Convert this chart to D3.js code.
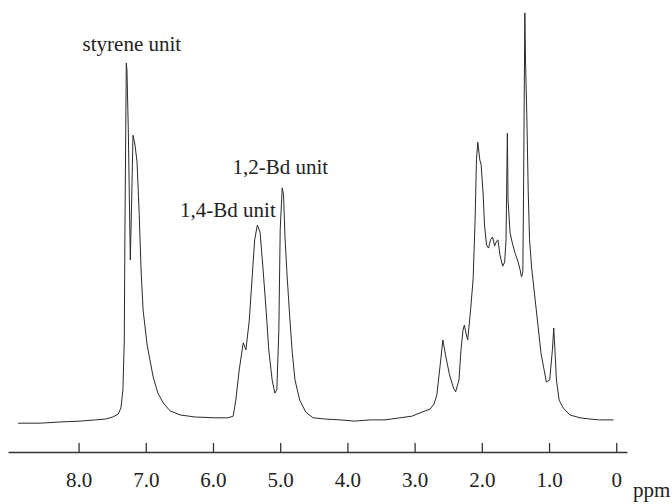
<!DOCTYPE html>
<html>
<head>
<meta charset="utf-8">
<script src="https://cdn.jsdelivr.net/npm/d3@7"></script>
<style>
  html, body { margin: 0; padding: 0; background: #fff; }
  svg { display: block; }
  .lbl { font-family: "Liberation Serif", "Times New Roman", serif; font-size: 21px; fill: #222; }
</style>
</head>
<body>
<svg width="672" height="504"></svg>
<script>
const width = 672, height = 504;
const svg = d3.select("svg");

// chemical shift (ppm) and relative intensity
const ppm = [
  8.90, 8.57, 8.27, 7.98, 7.75, 7.60, 7.49, 7.41, 7.37, 7.34,
  7.32, 7.31, 7.29, 7.28, 7.26, 7.23, 7.21, 7.19, 7.16, 7.13,
  7.10, 7.07, 7.04, 6.98, 6.89, 6.82, 6.74, 6.64, 6.49, 6.27,
  5.97, 5.78, 5.70, 5.66, 5.61, 5.55, 5.51, 5.46, 5.42, 5.38,
  5.34, 5.30, 5.26, 5.21, 5.17, 5.12, 5.08, 5.05, 5.02, 5.00,
  4.97, 4.95, 4.93, 4.90, 4.86, 4.82, 4.78, 4.71, 4.62, 4.51,
  4.33, 4.11, 3.89, 3.66, 3.44, 3.22, 3.04, 2.89, 2.77, 2.71,
  2.67, 2.62, 2.58, 2.54, 2.48, 2.42, 2.39, 2.34, 2.31, 2.28,
  2.26, 2.23, 2.21, 2.17, 2.13, 2.10, 2.08, 2.06, 2.03, 2.01,
  1.98, 1.96, 1.93, 1.90, 1.87, 1.84, 1.81, 1.78, 1.76, 1.73,
  1.69, 1.66, 1.64, 1.62, 1.61, 1.58, 1.55, 1.51, 1.46, 1.43,
  1.41, 1.39, 1.38, 1.36, 1.35, 1.33, 1.31, 1.29, 1.26, 1.19,
  1.12, 1.04, 0.99, 0.95, 0.93, 0.91, 0.89, 0.85, 0.79, 0.69,
  0.54, 0.39, 0.25, 0.04
];
const intensity = [
  0.2, 0.2, 0.5, 0.7, 1.0, 1.2, 1.7, 2.4, 3.9, 8.3,
  20.4, 47.1, 87.6, 85.9, 71.4, 39.8, 54.4, 70.1, 67.7, 63.6,
  51.9, 37.4, 27.7, 19.2, 11.4, 7.5, 5.1, 3.2, 2.2, 1.7,
  1.5, 1.5, 1.9, 5.8, 13.1, 19.7, 18.0, 25.2, 35.0, 44.7,
  48.3, 46.6, 38.6, 27.7, 18.0, 10.7, 7.5, 8.3, 22.8, 47.1,
  57.3, 55.6, 45.9, 36.7, 26.5, 17.2, 10.7, 5.8, 2.9, 1.5,
  1.2, 1.0, 0.7, 1.0, 1.0, 1.5, 1.9, 2.9, 3.6, 4.9,
  7.0, 14.3, 20.4, 16.7, 11.9, 8.7, 7.8, 10.7, 18.0, 22.8,
  24.0, 21.6, 20.4, 27.2, 35.0, 49.5, 64.1, 68.4, 64.1, 62.9,
  55.6, 48.3, 43.4, 42.7, 44.7, 45.4, 43.2, 44.4, 44.7, 41.0,
  38.3, 39.3, 44.7, 70.6, 54.4, 46.4, 44.2, 41.7, 39.3, 37.4,
  35.7, 36.9, 54.4, 99.8, 88.3, 74.5, 56.8, 44.7, 38.1, 27.7,
  17.2, 10.2, 10.7, 18.0, 23.3, 17.2, 10.7, 5.8, 3.9, 2.2,
  1.5, 1.2, 1.0, 1.0
];

const tickValues = [8, 7, 6, 5, 4, 3, 2, 1, 0];
const tickLabels = ["8.0", "7.0", "6.0", "5.0", "4.0", "3.0", "2.0", "1.0", "0"];

// peak annotations
const peakLabels = ["styrene unit", "1,2-Bd unit", "1,4-Bd unit"];
const peakLabelPpm = [7.94, 5.71, 6.49];
const peakLabelLevel = [90.6, 60.7, 50.2];

const x = d3.scaleLinear().domain([9.05, -0.16]).range([8, 627]);
const y = d3.scaleLinear().domain([0, 100]).range([424, 12]);

const axisY = 452;

// 軸
const axis = d3.axisBottom(x)
  .tickValues(tickValues)
  .tickFormat((d, i) => tickLabels[i])
  .tickSizeInner(-9)
  .tickSizeOuter(0);

const gAxis = svg.append("g")
  .attr("transform", `translate(0,${axisY})`)
  .call(axis);

gAxis.select(".domain").attr("stroke", "#333").attr("stroke-width", 1.3);
gAxis.selectAll(".tick line").attr("stroke", "#333").attr("stroke-width", 1.3);
gAxis.selectAll(".tick text")
  .attr("class", "lbl")
  .attr("y", 35)
  .attr("dy", null)
  .attr("fill", "#222");

svg.append("text")
  .attr("class", "lbl")
  .attr("x", 633)
  .attr("y", 497)
  .text("ppm");

// スペクトル
const points = ppm.map((p, i) => [p, intensity[i]]);
const line = d3.line()
  .x(d => x(d[0]))
  .y(d => y(d[1]));

svg.append("path")
  .datum(points)
  .attr("fill", "none")
  .attr("stroke", "#2a2a2a")
  .attr("stroke-width", 1)
  .attr("stroke-linejoin", "round")
  .attr("d", line);

// ラベル
svg.selectAll(".peak")
  .data(peakLabels)
  .enter()
  .append("text")
  .attr("class", "lbl peak")
  .attr("x", (d, i) => x(peakLabelPpm[i]))
  .attr("y", (d, i) => y(peakLabelLevel[i]))
  .text(d => d);
</script>
</body>
</html>
